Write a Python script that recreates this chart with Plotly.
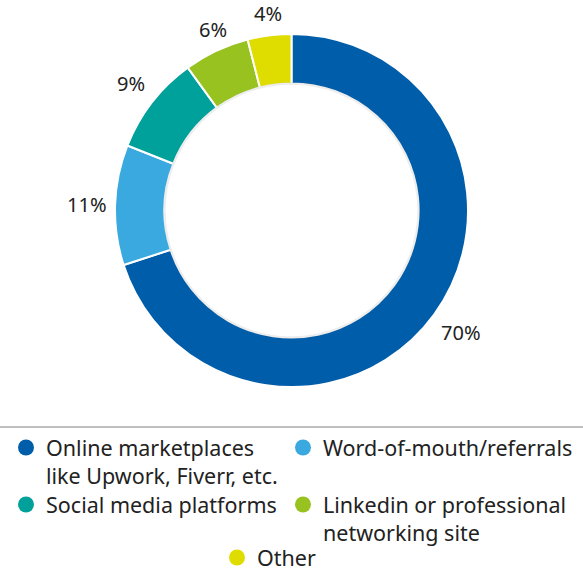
import math
import plotly.graph_objects as go

# Share of respondents by main channel for finding freelance work
channels = [
    "Online marketplaces<br>like Upwork, Fiverr, etc.",
    "Word-of-mouth/referrals",
    "Social media platforms",
    "Linkedin or professional<br>networking site",
    "Other",
]
shares = [70, 11, 9, 6, 4]
colors = ["#005DA9", "#3AA9E0", "#00A19A", "#97C21F", "#DFDC00"]

W, H = 583, 572
FONT = "Noto Sans"
TEXT = "#222222"

# ring placement (paper fractions) and geometry in pixels
dom_y = [0.3234, 0.9406]
cy = (dom_y[0] + dom_y[1]) / 2
outer_r = (dom_y[1] - dom_y[0]) * H / 2
hole = 0.72
label_gap = 7  # space between the ring and its percentage labels

# legend grid: swatch centre x and first-line centre y (pixels) for each entry
legend_x = [27, 304, 27, 304, 238]
legend_y = [448, 448, 505, 505, 558]
LEG_PAD_X = 21   # legend box edge to swatch centre
LEG_PAD_Y = 21   # legend box top to first text line centre

fig = go.Figure()

fig.add_trace(
    go.Pie(
        labels=channels,
        values=shares,
        marker=dict(colors=colors, line=dict(color="white", width=2)),
        hole=hole,
        sort=False,
        direction="clockwise",
        rotation=0,
        textinfo="none",
        hoverinfo="label+percent",
        domain=dict(x=[0, 1], y=dom_y),
        showlegend=False,
    )
)

# one small legend per entry so the entries sit on a two-column grid
legend_font = dict(family=FONT, size=21.5, color=TEXT)
legend_layouts = {}
for i, (name, col) in enumerate(zip(channels, colors)):
    key = "legend" if i == 0 else f"legend{i + 1}"
    fig.add_trace(
        go.Scatter(
            x=[None], y=[None], mode="markers", name=name,
            marker=dict(symbol="circle", size=18, color=col),
            legend=key, hoverinfo="skip",
        )
    )
    legend_layouts[key] = dict(
        orientation="v",
        x=(legend_x[i] - LEG_PAD_X) / W, xanchor="left",
        y=1 - (legend_y[i] - LEG_PAD_Y) / H, yanchor="top",
        valign="top",
        font=legend_font,
        itemclick=False, itemdoubleclick=False,
        bgcolor="rgba(0,0,0,0)",
    )

# percentage labels just outside the ring, at each slice's mid-angle
total = sum(shares)
annotations = []
cum = 0
for v in shares:
    mid = (cum + v / 2) / total * 2 * math.pi
    cum += v
    s, c = math.sin(mid), math.cos(mid)
    r = outer_r + label_gap
    annotations.append(
        dict(
            x=0.5 + r * s / W,
            y=cy + r * c / H,
            xref="paper", yref="paper",
            text=f"{v}%", showarrow=False,
            xanchor="left" if s > 0.5 else ("right" if s < -0.5 else "center"),
            yanchor="bottom" if c > 0.5 else ("top" if c < -0.5 else "middle"),
            borderpad=0,
            font=dict(family=FONT, size=20, color=TEXT),
        )
    )

fig.update_layout(
    width=W,
    height=H,
    margin=dict(l=0, r=0, t=0, b=0, autoexpand=False),
    paper_bgcolor="white",
    plot_bgcolor="white",
    font=dict(family=FONT, color=TEXT),
    xaxis=dict(visible=False, domain=[0, 0.01]),
    yaxis=dict(visible=False, domain=[0, 0.01]),
    annotations=annotations,
    shapes=[
        # divider between the ring and its legend
        dict(type="line", xref="paper", yref="paper", x0=0, x1=1,
             y0=1 - 427 / H, y1=1 - 427 / H,
             line=dict(color="#AAAAAA", width=1.5)),
        # soft shading along the inner edge of the ring
        dict(type="circle", xref="paper", yref="paper",
             xsizemode="pixel", ysizemode="pixel",
             xanchor=0.5, yanchor=cy,
             x0=-outer_r * hole, x1=outer_r * hole,
             y0=-outer_r * hole, y1=outer_r * hole,
             line=dict(color="rgba(0,0,0,0.07)", width=2.5),
             layer="above"),
    ],
    **legend_layouts,
)

fig.write_html("out.html")
